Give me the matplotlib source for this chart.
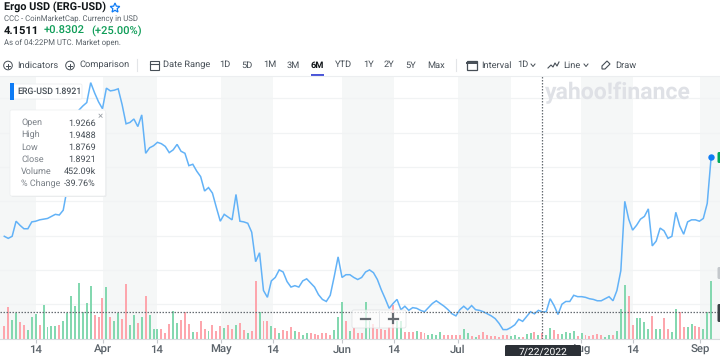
#!/usr/bin/env python3
import numpy as np
import matplotlib
matplotlib.use("Agg")
import matplotlib.pyplot as plt
from matplotlib.patches import Rectangle, FancyBboxPatch, Circle, Polygon

plt.rcParams["font.family"] = ["Roboto", "DejaVu Sans"]
plt.rcParams["text.hinting"] = "none"

# %%
# daily close, Mar 7 to Sep 3 2022
close = [
    2.99, 2.96, 2.99, 3.21, 3.15, 3.10, 3.10, 3.20, 3.21, 3.23, 3.24, 3.25, 3.28, 3.31, 3.30, 3.37,
    3.68, 4.18, 4.62, 4.83, 4.89, 4.94, 5.23, 5.08, 4.95, 4.85, 5.15, 5.11, 5.12, 5.14, 4.91, 4.63,
    4.65, 4.70, 4.59, 4.76, 4.20, 4.28, 4.31, 4.36, 4.34, 4.30, 4.21, 4.25, 4.33, 4.23, 4.20, 4.02,
    4.04, 3.94, 3.86, 3.65, 3.70, 3.62, 3.41, 3.21, 3.31, 3.27, 3.23, 3.60, 3.21, 3.20, 3.18, 3.05,
    2.62, 2.75, 2.20, 2.10, 2.34, 2.39, 2.50, 2.47, 2.33, 2.25, 2.27, 2.25, 2.34, 2.37, 2.31, 2.25,
    2.14, 2.07, 2.04, 2.13, 2.40, 2.69, 2.39, 2.43, 2.43, 2.39, 2.36, 2.39, 2.47, 2.50, 2.46, 2.36,
    2.21, 2.08, 1.94, 2.01, 2.07, 1.92, 1.97, 1.91, 1.95, 1.94, 1.91, 1.89, 1.95, 2.01, 2.05, 2.01,
    1.97, 1.92, 1.86, 1.83, 1.92, 1.97, 1.92, 1.98, 1.92, 1.91, 1.89, 1.86, 1.83, 1.79, 1.72, 1.63,
    1.63, 1.66, 1.70, 1.78, 1.75, 1.82, 1.89, 1.86, 1.91, 1.89, 1.89, 2.08, 1.98, 1.85, 2.00, 2.04,
    2.04, 2.13, 2.11, 2.11, 2.10, 2.08, 2.07, 2.05, 2.05, 2.08, 2.11, 2.05, 2.20, 2.49, 3.50, 3.24,
    3.08, 3.15, 3.24, 3.28, 3.39, 2.85, 2.92, 3.11, 3.07, 2.96, 2.99, 3.34, 3.14, 3.02, 3.20, 3.23,
    3.23, 3.21, 3.25, 3.47, 4.15,
]

# volume in thousands
volume = [
    1170, 2880, 1710, 2340, 1530, 1260, 810, 1980, 2250, 1260, 3060, 1080, 1170, 1170, 1260, 1620,
    2340, 3870, 2970, 5040, 2430, 3240, 4770, 2160, 1980, 3690, 4680, 1980, 1620, 2340, 1800, 4950,
    1260, 2160, 1440, 1980, 3870, 2160, 900, 900, 900, 540, 1350, 2520, 1440, 1710, 2430, 1350,
    630, 630, 1620, 900, 720, 1260, 720, 1170, 990, 1260, 900, 1260, 1440, 810, 540, 720,
    5220, 2430, 1620, 1620, 1170, 990, 540, 810, 720, 1080, 720, 630, 360, 540, 540, 450,
    360, 540, 540, 360, 810, 1980, 3330, 1620, 720, 990, 540, 540, 3330, 1620, 1350, 900,
    900, 810, 1080, 3060, 1620, 1620, 630, 630, 630, 720, 630, 540, 360, 450, 360, 630,
    360, 360, 360, 360, 360, 900, 540, 270, 180, 360, 630, 360, 270, 270, 180, 360,
    360, 270, 360, 180, 180, 450, 540, 630, 360, 452, 360, 990, 810, 450, 450, 630,
    540, 720, 270, 540, 360, 270, 360, 450, 360, 180, 360, 360, 720, 2700, 4860, 3870,
    1260, 1890, 1890, 1530, 900, 2070, 900, 900, 1890, 900, 630, 2700, 2430, 1080, 1080, 1350,
    1170, 1080, 900, 2430, 5220,
]

# 1 = up day (green), 0 = down day (red)
up = [
    0, 0, 1, 1, 0, 0, 1, 1, 1, 0, 1, 1, 1, 1, 0, 1,
    1, 1, 1, 1, 1, 1, 1, 0, 0, 0, 1, 0, 1, 1, 0, 0,
    1, 1, 0, 1, 0, 1, 1, 1, 0, 0, 0, 1, 1, 0, 0, 0,
    1, 0, 0, 0, 1, 0, 0, 0, 1, 0, 0, 1, 0, 0, 1, 0,
    0, 1, 0, 0, 1, 0, 1, 0, 0, 0, 1, 0, 1, 1, 0, 0,
    0, 0, 0, 0, 1, 1, 1, 0, 1, 0, 0, 0, 1, 1, 0, 0,
    0, 0, 0, 0, 1, 1, 0, 0, 0, 1, 0, 0, 1, 1, 1, 1,
    0, 0, 0, 0, 0, 1, 1, 0, 1, 0, 0, 0, 0, 0, 0, 0,
    0, 1, 1, 1, 0, 1, 1, 0, 1, 0, 1, 1, 0, 0, 1, 1,
    1, 1, 0, 1, 0, 0, 0, 0, 0, 1, 1, 0, 1, 1, 1, 0,
    0, 1, 1, 1, 1, 0, 1, 1, 0, 0, 1, 1, 0, 0, 1, 1,
    0, 0, 1, 1, 1,
]

# axis labels and where they sit on the day index
tick_labels = ["14", "Apr", "14", "May", "14", "Jun", "14", "Jul", "Aug", "14", "Sep"]
tick_days = [8.0, 25.1, 38.8, 55.1, 68.4, 86.0, 99.2, 115.5, 146.8, 160.0, 177.2]
price_grid = [1.5, 2.0, 2.5, 3.0, 3.5, 4.0, 4.5, 5.0]
selected_day = 137
selected_close = 1.8921

tooltip_names = ["Open", "High", "Low", "Close", "Volume", "% Change"]
tooltip_values = ["1.9266", "1.9488", "1.8769", "1.8921", "452.09k", "-39.76%"]
toolbar = [("Indicators", 17), ("Comparison", 79), ("Date Range", 163), ("1D", 219), ("5D", 241),
           ("1M", 263), ("3M", 287), ("YTD", 335), ("1Y", 363), ("2Y", 384), ("5Y", 405),
           ("Max", 427), ("Interval", 481), ("1D", 517), ("Line", 563), ("Draw", 615)]

GRAY = "#464e56"
GREEN = "#0f9d58"
BLUE = "#0f7cf5"

# %%
fig = plt.figure(figsize=(7.2, 3.56), dpi=100, facecolor="white")


def pix_box(x0, y0, x1, y1):
    return [x0 / 720, 1 - y1 / 356, (x1 - x0) / 720, (y1 - y0) / 356]


# price axes, day index on x
ax = fig.add_axes(pix_box(0, 76, 720, 338.5))
ax.set_xlim(-1.095, 182.25)
ax.set_ylim(1.523, 5.327)
for s in ax.spines.values():
    s.set_visible(False)
ax.spines["bottom"].set_visible(True)
ax.spines["bottom"].set_color("#d8dbde")
ax.spines["bottom"].set_linewidth(0.8)
ax.set_yticks(price_grid)
ax.tick_params(axis="y", length=0, labelleft=False)
ax.grid(axis="y", color="#f1f3f4", lw=0.9)
ax.set_axisbelow(True)
ax.set_xticks(tick_days, tick_labels, fontsize=8.2, color="#5b636a", fontweight="medium")
ax.tick_params(axis="x", length=3, width=0.8, color="#c4c8cc", pad=1.5)

# grey half-month bands: first to 14th of each month
band_starts = [-1.095] + tick_days[1::2][:3] + [115.5, 146.8, 177.2]
band_ends = tick_days[0::2][:4] + [129.0, 160.0, 182.25]
for a, b in zip(band_starts, band_ends):
    ax.axvspan(a, b, color="#f5f7f7", lw=0, zorder=0)

days = np.arange(len(close))
volume = np.array(volume)
up = np.array(up)

vol_ax = ax.twinx()
vol_ax.set_ylim(0, 23625)
vol_ax.axis("off")
vol_ax.bar(days[up == 1], volume[up == 1], width=0.5, color="#84d8b0", lw=0)
vol_ax.bar(days[up == 0], volume[up == 0], width=0.5, color="#fda6ad", lw=0)

price_ax = ax.twinx()
price_ax.set_ylim(ax.get_ylim())
price_ax.axis("off")
price_ax.plot(days, close, color="#62b2f7", lw=1.1, solid_joinstyle="miter")
price_ax.plot(days[-1], close[-1], "o", color=BLUE, ms=4.6, mew=0, clip_on=False)
price_ax.axhline(selected_close, color="#666c72", lw=0.9, ls=(0, (1.2, 1.2)))
price_ax.axvline(selected_day, color="#666c72", lw=0.9, ls=(0, (1.2, 1.2)))

# %%
# page chrome on top, pixel coordinates
ui = fig.add_axes([0, 0, 1, 1], zorder=10)
ui.set_xlim(0, 720)
ui.set_ylim(356, 0)
ui.axis("off")
ui.patch.set_alpha(0)


def label(x, y, s, size=8, color=GRAY, weight="normal", ha="left", **kw):
    ui.text(x, y, s, fontsize=size, color=color, fontweight=weight, ha=ha, va="center", **kw)


# header
label(4, 7, "Ergo USD (ERG-USD)", 7.8, "#101518", "bold")
label(4, 18.5, "CCC - CoinMarketCap. Currency in USD", 5.6, "#5b636a")
label(4, 31, "4.1511", 8.0, "#101518", "bold")
label(44, 31, "+0.8302", 8.0, GREEN, "medium")
label(91, 31, "(+25.00%)", 8.0, GREEN, "medium")
label(4, 42.5, "As of 04:22PM UTC. Market open.", 5.6, "#5b636a")
th = np.linspace(np.pi / 2, np.pi / 2 + 2 * np.pi, 11)[:-1]
rad = np.where(np.arange(10) % 2 == 0, 5, 2.3)
ui.add_patch(Polygon(np.c_[115 + rad * np.cos(th), 8 - rad * np.sin(th)], fc="none", ec=BLUE, lw=0.9))

# toolbar
for s, x in toolbar:
    label(x, 65, s, 6.7, GRAY)
label(311, 65, "6M", 6.7, "#101518", "bold")
ui.add_patch(Rectangle((311, 74.3), 13, 1.4, color="#4a55d8", lw=0))
ui.plot([0, 720], [76, 76], color="#eceef0", lw=0.8)
for x in [137, 456]:
    ui.plot([x, x], [59, 71], color="#e3e5e8", lw=0.8)
for x in [8, 70]:
    ui.add_patch(Circle((x, 65.5), 4.3, fc="none", ec=GRAY, lw=0.7))
    ui.plot([x - 2, x + 2], [65.5, 65.5], color=GRAY, lw=0.7)
    ui.plot([x, x], [63.5, 67.5], color=GRAY, lw=0.7)
ui.add_patch(Rectangle((150, 61), 9, 8.5, fc="none", ec=GRAY, lw=0.8))
ui.plot([150, 159], [63.5, 63.5], color=GRAY, lw=0.8)
ui.add_patch(Rectangle((466.5, 60.5), 10, 9, fc="none", ec=GRAY, lw=0.9))
ui.plot([466.5, 476.5], [63, 63], color=GRAY, lw=1.4)
ui.plot([548, 551, 553, 555, 557, 559], [68, 65, 67, 63, 66, 62], color=GRAY, lw=0.8)
for x in [531, 584]:
    ui.plot([x, x + 2, x + 4], [64, 66.5, 64], color=GRAY, lw=0.7)
ui.add_patch(Polygon([[602, 66], [607, 61], [610, 64], [605, 69], [602, 69]], fc="none", ec=GRAY, lw=0.8))

# watermark
label(545, 92.5, "yahoo!finance", 16.6, "#dfe1e6", "bold", zorder=1)

# selected-close chip
ui.add_patch(FancyBboxPatch((11, 84), 71, 15, boxstyle="round,pad=0,rounding_size=1.5", fc="white", ec="#eceef0", lw=0.6))
ui.add_patch(Rectangle((10, 83), 4, 17, color=BLUE, lw=0))
label(17, 91.5, "ERG-USD", 6.3, GRAY, "medium")
label(54, 91.5, "1.8921", 6.3, GRAY, "medium")

# tooltip
ui.add_patch(FancyBboxPatch((11.5, 112), 95, 85, boxstyle="round,pad=0,rounding_size=1.5", fc="#e9ebec", ec="none"))
ui.add_patch(FancyBboxPatch((10, 110), 95.5, 86, boxstyle="round,pad=0,rounding_size=1.5", fc="white", ec="#eceef0", lw=0.5))
label(100, 116.5, "×", 7, "#9aa0a6", ha="center")
for n, (name, val) in enumerate(zip(tooltip_names, tooltip_values)):
    y = 123 + n * 12.1
    label(21, y, name, 6.5, "#7b8188")
    label(96, y, val, 6.5, GRAY, ha="right")

# zoom buttons
ui.add_patch(FancyBboxPatch((352, 310), 54, 18, boxstyle="round,pad=0,rounding_size=2", fc="white", ec="#d8dbde", lw=0.6, alpha=0.72))
ui.plot([379, 379], [311, 327], color="#e3e5e8", lw=0.7)
ui.plot([361, 370], [318.5, 318.5], color="#666c72", lw=1.6)
ui.plot([388.5, 397.5], [318.5, 318.5], color="#666c72", lw=1.6)
ui.plot([393, 393], [314, 323], color="#666c72", lw=1.6)

# right edge tabs and date flag
ui.add_patch(FancyBboxPatch((717.5, 152), 6, 11, boxstyle="round,pad=0,rounding_size=1.5", fc="#00a85a", ec="none"))
ui.add_patch(FancyBboxPatch((717.5, 267), 6, 12, boxstyle="round,pad=0,rounding_size=1.5", fc="#c4c8cc", ec="none"))
ui.add_patch(FancyBboxPatch((717.5, 304), 6, 18, boxstyle="round,pad=0,rounding_size=1.5", fc="#3a3f44", ec="none"))
ui.add_patch(FancyBboxPatch((505, 345), 76, 13, boxstyle="round,pad=0,rounding_size=1.5", fc="#2b3036", ec="none"))
label(543, 351.5, "7/22/2022", 7.4, "white", ha="center")

fig.savefig("out.png", dpi=100)
